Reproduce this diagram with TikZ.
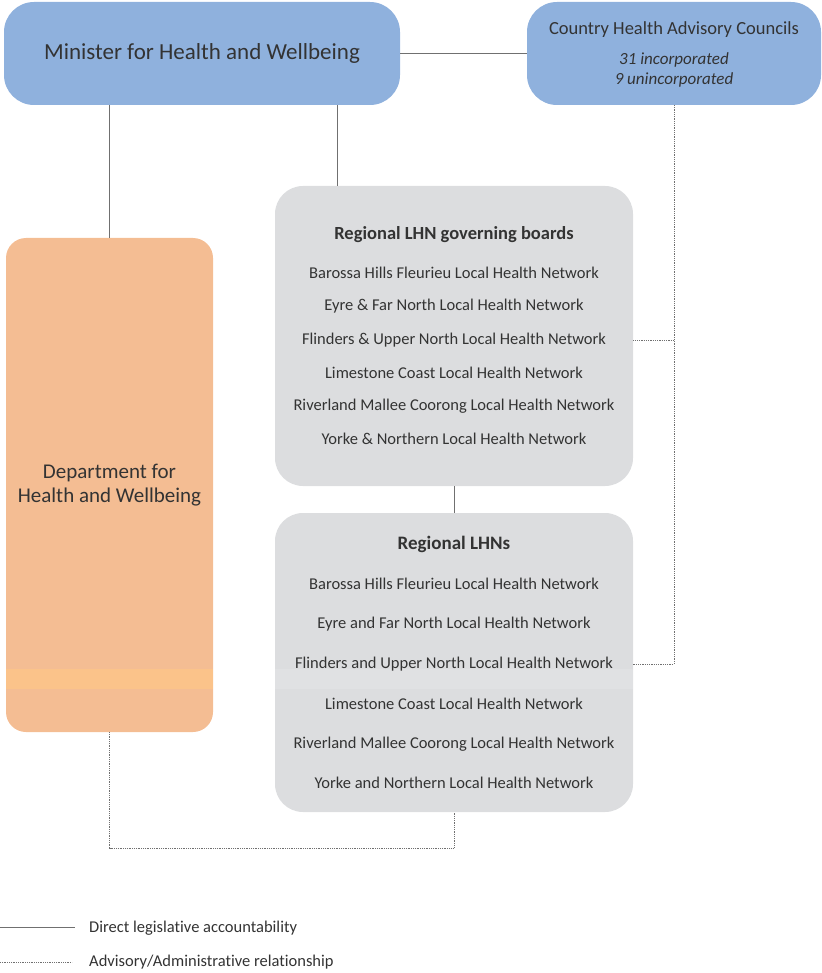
\documentclass[tikz,border=0pt]{standalone}
\usepackage{fontspec}
\setmainfont{Carlito}[Ligatures=CommonOff]
\definecolor{ministerblue}{HTML}{8FB1DD}
\definecolor{deptorange}{HTML}{F4BD93}
\definecolor{bandorange}{HTML}{FBC38A}
\definecolor{boxgrey}{HTML}{DCDDDF}
\definecolor{bandgrey}{HTML}{E0E1E3}
\definecolor{linegrey}{HTML}{707070}
\definecolor{textgrey}{HTML}{333333}
\begin{document}
\begin{tikzpicture}[x=1pt, y=-1pt,
    topbox/.style={rectangle, rounded corners=30pt, fill=ministerblue, text=textgrey, align=center, outer sep=0pt, minimum height=103pt},
    lhnbox/.style={rectangle, rounded corners=28pt, fill=boxgrey, outer sep=0pt, minimum width=358pt},
    item/.style={text=textgrey, font=\fontsize{16.5}{19}\selectfont, inner sep=0pt},
    direct/.style={draw=linegrey, line width=1pt},
    advisory/.style={draw=linegrey, line width=1pt, dash pattern=on 1pt off 0.8pt}
]
\useasboundingbox (0,0) rectangle (821,973);

% Top row
\node[topbox, minimum width=396pt, font=\fontsize{23}{27}\selectfont] (minister) at (202,53.5) {Minister for Health and Wellbeing};
\node[topbox, minimum width=294pt] (councils) at (674,53.5) {};
\node[item, font=\fontsize{18.5}{22}\selectfont] (ctitle) at (674,30) {Country Health Advisory Councils};
\node[item, align=center, font=\fontsize{17}{20}\selectfont\itshape] (cnums) at (674,69.5) {31 incorporated\\9 unincorporated};

% Department
\node[rectangle, rounded corners=20pt, fill=deptorange, outer sep=0pt, minimum width=207pt, minimum height=494pt] (dept) at (109.5,485) {};
\fill[bandorange] (6,669) rectangle (213,689);
\node[text=textgrey, align=center, font=\fontsize{21}{24}\selectfont] at (dept.center) {Department for\\Health and Wellbeing};

% Regional LHN governing boards
\node[lhnbox, minimum height=300pt] (boards) at (454,336) {};
\node[item, font=\fontsize{18.5}{21}\selectfont\bfseries] at (454,235) {Regional LHN governing boards};
\foreach \y/\t [count=\i] in {273/Barossa Hills Fleurieu Local Health Network,
    306/Eyre \& Far North Local Health Network,
    340/Flinders \& Upper North Local Health Network,
    373/Limestone Coast Local Health Network,
    406/Riverland Mallee Coorong Local Health Network,
    439/Yorke \& Northern Local Health Network}
    \node[item] (b\i) at (454,\y) {\t};

% Regional LHNs
\node[lhnbox, minimum height=299pt] (lhns) at (454,662.5) {};
\fill[bandgrey] (275,669) rectangle (633,689);
\node[item, font=\fontsize{19}{22}\selectfont\bfseries] at (454,544) {Regional LHNs};
\foreach \y/\t [count=\i] in {584/Barossa Hills Fleurieu Local Health Network,
    624/Eyre and Far North Local Health Network,
    664/Flinders and Upper North Local Health Network,
    704/Limestone Coast Local Health Network,
    744/Riverland Mallee Coorong Local Health Network,
    783/Yorke and Northern Local Health Network}
    \node[item] (l\i) at (454,\y) {\t};

% Direct lines
\coordinate (mb) at (337,186);
\draw[direct] (minister.east) -- (councils.west);
\draw[direct] (dept.north) -- (dept.north |- minister.south);
\draw[direct] (mb) -- (mb |- minister.south);
\draw[direct] (boards.south) -- (lhns.north);

% Advisory lines
\coordinate (db) at (110,848);
\draw[advisory] (councils.south) |- (lhns.east |- l3);
\draw[advisory] (councils.south |- b3) -- (boards.east |- b3);
\draw[advisory] (dept.south) |- (db -| lhns.south) -- (lhns.south);

% Legend
\coordinate (leg1) at (0,927);
\coordinate (leg2) at (0,962);
\draw[direct] (leg1) -- ++(75,0);
\draw[advisory] (leg2) -- ++(72,0);
\node[item, anchor=west] (legdirect) at (89,928) {Direct legislative accountability};
\node[item, anchor=west] (legadv) at (89,962) {Advisory/Administrative relationship};

\end{tikzpicture}
\end{document}
